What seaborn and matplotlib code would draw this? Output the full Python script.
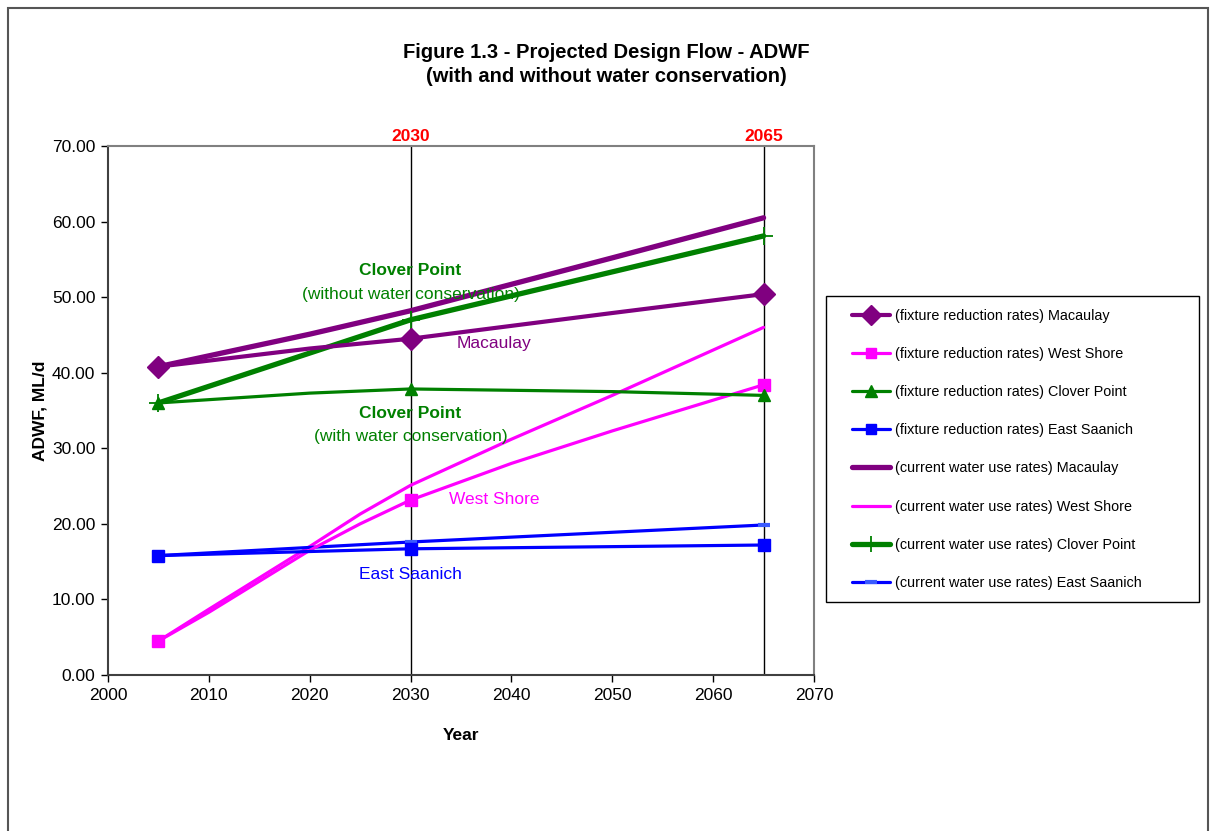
import matplotlib
matplotlib.use("Agg")
import matplotlib.pyplot as plt
import seaborn as sns
import pandas as pd
from matplotlib.patches import Rectangle

sns.set_theme(style="white")
plt.rcParams['font.family'] = ['Liberation Sans', 'DejaVu Sans']
plt.rcParams['text.color'] = 'black'
plt.rcParams['axes.labelcolor'] = 'black'
plt.rcParams['xtick.color'] = 'black'
plt.rcParams['ytick.color'] = 'black'

# Projected ADWF (ML/d) by year
fix_mac_years = [2005, 2020, 2030, 2050, 2065]
fix_mac = [40.8, 43.2, 44.5, 47.9, 50.4]

fix_ws_years = [2005, 2010, 2020, 2025, 2030, 2040, 2050, 2065]
fix_ws = [4.5, 8.3, 16.5, 20.0, 23.15, 28.0, 32.3, 38.4]

fix_cp_years = [2005, 2020, 2030, 2050, 2065]
fix_cp = [36.0, 37.3, 37.85, 37.5, 37.0]

fix_es_years = [2005, 2030, 2065]
fix_es = [15.8, 16.7, 17.2]

cur_mac_years = [2005, 2020, 2030, 2050, 2065]
cur_mac = [40.8, 45.1, 48.2, 55.2, 60.5]

cur_ws_years = [2005, 2010, 2020, 2025, 2030, 2040, 2050, 2065]
cur_ws = [4.5, 8.7, 17.0, 21.3, 25.1, 31.2, 37.0, 46.0]

cur_cp_years = [2005, 2030, 2065]
cur_cp = [36.0, 47.0, 58.1]

cur_es_years = [2005, 2030, 2065]
cur_es = [15.8, 17.6, 19.85]

marker_years = [2005, 2030, 2065]
design_years = [2030, 2065]

PURPLE = "#800080"
PINK = "#FF00FF"
GREEN = "#008000"
BLUE = "#0000FF"

W, H = 1212, 831
fig = plt.figure(figsize=(W / 100, H / 100), dpi=100)
ax = fig.add_axes([108 / W, 1 - 675 / H, (814 - 108) / W, (675 - 146) / H])

# chart-area border
fig.patches.append(Rectangle((8 / W, -0.05), (1208 - 8) / W, 1.05 - 8 / H,
                             transform=fig.transFigure, fill=False,
                             edgecolor="#555555", lw=1.5, zorder=-1))
# legend box
fig.patches.append(Rectangle((826 / W, 1 - 602 / H), (1199 - 826) / W, (602 - 296) / H,
                             transform=fig.transFigure, fill=False,
                             edgecolor="black", lw=1.0, zorder=-1))


def draw(years, vals, label, color, lw, marker=None, ms=0, mew=1, mfc=None, mec=None):
    df = pd.DataFrame({"Year": years, "ADWF": vals})
    idx = [i for i, y in enumerate(years) if y in marker_years]
    kw = {}
    if marker:
        kw = dict(marker=marker, markersize=ms, markevery=idx, markeredgewidth=mew,
                  markerfacecolor=mfc or color, markeredgecolor=mec or color)
    sns.lineplot(data=df, x="Year", y="ADWF", ax=ax, color=color, lw=lw,
                 label=label, sort=True, errorbar=None, **kw)


labels_fix = ["(fixture reduction rates) Macaulay", "(fixture reduction rates) West Shore",
              "(fixture reduction rates) Clover Point", "(fixture reduction rates) East Saanich"]
labels_cur = ["(current water use rates) Macaulay", "(current water use rates) West Shore",
              "(current water use rates) Clover Point", "(current water use rates) East Saanich"]

draw(cur_mac_years, cur_mac, labels_cur[0], PURPLE, 3.8)
draw(cur_ws_years, cur_ws, labels_cur[1], PINK, 2.3)
draw(cur_cp_years, cur_cp, labels_cur[2], GREEN, 3.8, marker="+", ms=13, mew=1.3)
draw(cur_es_years, cur_es, labels_cur[3], BLUE, 2.3, marker="_", ms=9, mew=3, mec="#3A5BFF")

draw(fix_mac_years, fix_mac, labels_fix[0], PURPLE, 3.0, marker="D", ms=11)
draw(fix_ws_years, fix_ws, labels_fix[1], PINK, 2.3, marker="s", ms=8)
draw(fix_cp_years, fix_cp, labels_fix[2], GREEN, 2.3, marker="^", ms=9)
draw(fix_es_years, fix_es, labels_fix[3], BLUE, 2.3, marker="s", ms=8)

for yr in design_years:
    ax.axvline(yr, color="black", lw=1.0, zorder=1)
    ax.text(yr, 70.2, str(yr), color="#FF0000", fontsize=12.5, fontweight="bold",
            ha="center", va="bottom", transform=ax.transData)

ax.set_xlim(2000, 2070)
ax.set_ylim(0, 70)
ax.set_xticks(range(2000, 2071, 10))
ax.set_yticks(range(0, 71, 10))
ax.set_yticklabels([f"{v:.2f}" for v in range(0, 71, 10)])
ax.tick_params(axis="both", which="major", direction="out", length=5, width=1,
               labelsize=12.5, colors="black", bottom=True, left=True, pad=4)
for s in ["left", "bottom"]:
    ax.spines[s].set_color("#404040")
    ax.spines[s].set_linewidth(1.5)
for s in ["top", "right"]:
    ax.spines[s].set_color("#808080")
    ax.spines[s].set_linewidth(1.5)
ax.grid(False)

ax.set_xlabel("Year", fontsize=12.5, fontweight="bold", labelpad=18)
ax.set_ylabel("ADWF, ML/d", fontsize=12.5, fontweight="bold", labelpad=3)

# series annotations
ANN = 12.5
ax.text(2030.0, 53.5, "Clover Point", color=GREEN, fontsize=ANN, fontweight="bold", ha="center", va="center")
ax.text(2030.0, 50.4, "(without water conservation)", color=GREEN, fontsize=ANN, ha="center", va="center")
ax.text(2038.3, 43.9, "Macaulay", color=PURPLE, fontsize=ANN, ha="center", va="center")
ax.text(2030.0, 34.65, "Clover Point", color=GREEN, fontsize=ANN, fontweight="bold", ha="center", va="center")
ax.text(2030.0, 31.5, "(with water conservation)", color=GREEN, fontsize=ANN, ha="center", va="center")
ax.text(2038.3, 23.2, "West Shore", color=PINK, fontsize=ANN, ha="center", va="center")
ax.text(2030.0, 13.3, "East Saanich", color=BLUE, fontsize=ANN, ha="center", va="center")

fig.text(0.5, 1 - 52 / H, "Figure 1.3 - Projected Design Flow - ADWF", ha="center",
         va="center", fontsize=14.5, fontweight="bold", color="black")
fig.text(0.5, 1 - 77 / H, "(with and without water conservation)", ha="center",
         va="center", fontsize=14.5, fontweight="bold", color="black")

handles, labels = ax.get_legend_handles_labels()
order = labels_fix + labels_cur
hmap = dict(zip(labels, handles))
leg = ax.legend([hmap[l] for l in order], order, loc="upper left",
                bbox_to_anchor=(852 / W, 1 - 309 / H),
                bbox_transform=fig.transFigure, fontsize=10.4,
                frameon=False, borderaxespad=0, borderpad=0,
                labelspacing=1.67, handlelength=2.6, handletextpad=0.35,
                markerscale=0.9, labelcolor="black")
for h in leg.legend_handles:
    try:
        h.set_markevery([1])
    except Exception:
        pass

fig.savefig("out.png", dpi=100)
